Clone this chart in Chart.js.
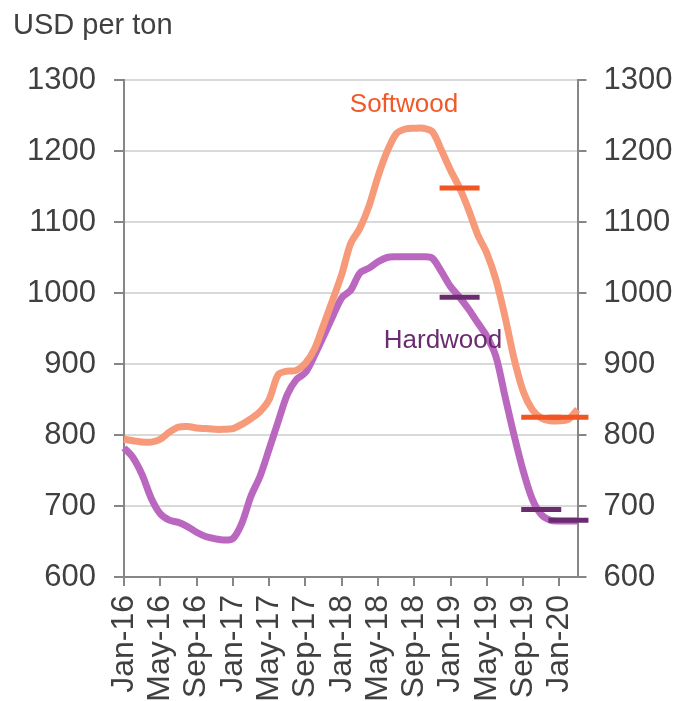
<!DOCTYPE html>
<html>
<head>
<meta charset="utf-8">
<script src="https://cdn.jsdelivr.net/npm/chart.js@4"></script>
<style>
  html, body { margin: 0; padding: 0; background: #fff; }
  #wrap { width: 679px; height: 701px; }
</style>
</head>
<body>
<div id="wrap"><canvas id="woodChart" width="679" height="701"></canvas></div>
<script>
// monthly prices, USD per ton
const months = [
    'Jan-16', 'Feb-16', 'Mar-16', 'Apr-16', 'May-16', 'Jun-16', 'Jul-16', 'Aug-16', 'Sep-16', 'Oct-16', 'Nov-16', 'Dec-16',
    'Jan-17', 'Feb-17', 'Mar-17', 'Apr-17', 'May-17', 'Jun-17', 'Jul-17', 'Aug-17', 'Sep-17', 'Oct-17', 'Nov-17', 'Dec-17',
    'Jan-18', 'Feb-18', 'Mar-18', 'Apr-18', 'May-18', 'Jun-18', 'Jul-18', 'Aug-18', 'Sep-18', 'Oct-18', 'Nov-18', 'Dec-18',
    'Jan-19', 'Feb-19', 'Mar-19', 'Apr-19', 'May-19', 'Jun-19', 'Jul-19', 'Aug-19', 'Sep-19', 'Oct-19', 'Nov-19', 'Dec-19',
    'Jan-20', 'Feb-20', 'Mar-20'
];

const softwood = [
    794, 792, 790, 790, 794, 804, 811, 812, 810, 809, 808, 808,
    809, 815, 823, 833, 850, 885, 890, 891, 901, 921, 955, 990,
    1026, 1070, 1091, 1122, 1164, 1199, 1224, 1231, 1232, 1232, 1227, 1201,
    1173, 1148, 1117, 1082, 1056, 1019, 967, 908, 862, 836, 824, 820,
    820, 822, 836
];

const hardwood = [
    782, 768, 744, 711, 689, 680, 677, 671, 663, 657, 654, 652,
    654, 676, 714, 742, 780, 819, 857, 878, 888, 912, 939, 967,
    993, 1004, 1028, 1035, 1044, 1050, 1051, 1051, 1051, 1051, 1049, 1030,
    1009, 994, 977, 958, 939, 911, 855, 800, 750, 710, 688, 680,
    679, 679, 679
];

// quarterly forecasts, shown as dashes at the middle month of the quarter
const forecastMonths = ['Feb-19', 'Nov-19', 'Feb-20'];
const softwoodForecast = [1148, 825, 825];
const hardwoodForecast = [994, 695, 680];

const yTicks = [600, 700, 800, 900, 1000, 1100, 1200, 1300];

function spreadForecast(values) {
    const out = months.map(() => null);
    forecastMonths.forEach((m, i) => { out[months.indexOf(m)] = values[i]; });
    return out;
}

const FONT = 'Arial, "Liberation Sans", sans-serif';
const TEXT = '#404040';
const AXIS = '#868686';

// series names written next to the lines
const seriesLabels = {
    id: 'seriesLabels',
    afterDatasetsDraw(chart, args, opts) {
        const { ctx, scales: { x, y } } = chart;
        ctx.save();
        ctx.font = '26px ' + FONT;
        ctx.textAlign = 'center';
        ctx.textBaseline = 'alphabetic';
        opts.items.forEach(item => {
            ctx.fillStyle = item.color;
            ctx.fillText(item.text, x.getPixelForValue(item.at), y.getPixelForValue(item.value));
        });
        ctx.restore();
    }
};

const plainNumber = value => String(value);

new Chart(document.getElementById('woodChart').getContext('2d'), {
    type: 'line',
    data: {
        labels: months,
        datasets: [
            {
                label: 'Softwood forecast',
                data: spreadForecast(softwoodForecast),
                showLine: false,
                pointStyle: 'line',
                pointRadius: 20,
                pointHoverRadius: 20,
                pointBorderWidth: 5,
                pointBorderColor: '#F05523',
                clip: false,
                order: 1
            },
            {
                label: 'Hardwood forecast',
                data: spreadForecast(hardwoodForecast),
                showLine: false,
                pointStyle: 'line',
                pointRadius: 20,
                pointHoverRadius: 20,
                pointBorderWidth: 5,
                pointBorderColor: '#6A2C6E',
                clip: false,
                order: 1
            },
            {
                label: 'Softwood',
                data: softwood,
                borderColor: '#F79A7A',
                borderWidth: 7,
                pointRadius: 0,
                tension: 0.3,
                order: 2
            },
            {
                label: 'Hardwood',
                data: hardwood,
                borderColor: '#BA68BF',
                borderWidth: 7,
                pointRadius: 0,
                tension: 0.3,
                order: 3
            }
        ]
    },
    options: {
        responsive: false,
        animation: false,
        events: [],
        layout: { padding: { left: 13, right: 0, top: 0, bottom: 0 } },
        plugins: {
            legend: { display: false },
            tooltip: { enabled: false },
            title: {
                display: true,
                text: 'USD per ton',
                align: 'start',
                color: TEXT,
                font: { family: FONT, size: 29, weight: 'normal' },
                padding: { top: 9, bottom: 36.2 }
            },
            seriesLabels: {
                items: [
                    { text: 'Softwood', at: 30.87, value: 1255, color: '#F05A28' },
                    { text: 'Hardwood', at: 35.17, value: 923, color: '#6A2C6E' }
                ]
            }
        },
        scales: {
            x: {
                grid: { drawOnChartArea: false, drawTicks: true, tickLength: 9, tickColor: AXIS, lineWidth: 2, offset: false },
                border: { color: AXIS, width: 2 },
                ticks: {
                    autoSkip: false,
                    minRotation: 90,
                    maxRotation: 90,
                    padding: 9,
                    color: TEXT,
                    font: { family: FONT, size: 32 },
                    callback: function (value, index) {
                        return index % 4 === 0 ? months[index] : null;
                    }
                },
                afterFit: scale => { scale.height = 124; }
            },
            y: {
                position: 'left',
                min: yTicks[0],
                max: yTicks[yTicks.length - 1],
                grid: { color: '#D9D9D9', lineWidth: 2, tickLength: 10, tickColor: AXIS },
                border: { color: AXIS, width: 2 },
                ticks: {
                    stepSize: 100,
                    padding: 18,
                    color: TEXT,
                    font: { family: FONT, size: 31 },
                    callback: plainNumber
                },
                afterFit: scale => { scale.width = 111; }
            },
            y1: {
                position: 'right',
                min: yTicks[0],
                max: yTicks[yTicks.length - 1],
                grid: { drawOnChartArea: false, tickLength: 9, tickColor: AXIS, lineWidth: 2 },
                border: { color: AXIS, width: 2 },
                ticks: {
                    stepSize: 100,
                    padding: 17,
                    color: TEXT,
                    font: { family: FONT, size: 31 },
                    callback: plainNumber
                },
                afterFit: scale => { scale.width = 101.5; }
            }
        }
    },
    plugins: [seriesLabels]
});
</script>
</body>
</html>
